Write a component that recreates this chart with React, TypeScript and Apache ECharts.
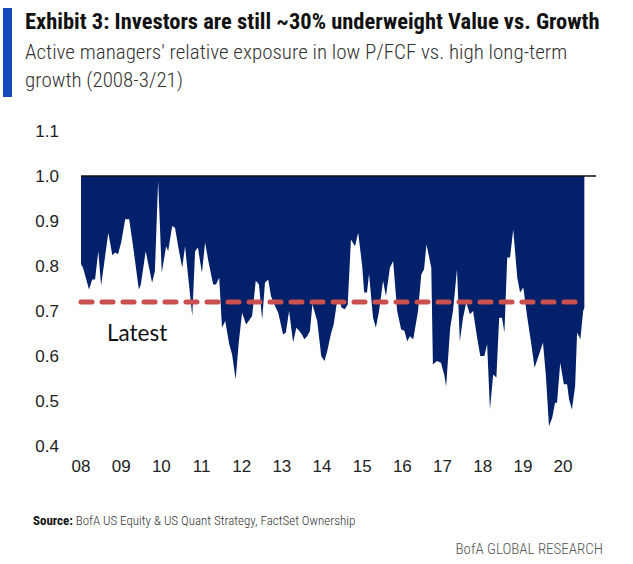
import React, { useEffect, useRef } from "react";
import * as echarts from "echarts";

const years: number[] = [
  2008.0, 2008.05, 2008.2, 2008.28, 2008.35, 2008.43, 2008.5, 2008.68, 2008.78, 2008.85, 2008.92,
  2009.0, 2009.1, 2009.2, 2009.29, 2009.44, 2009.49, 2009.61, 2009.77, 2009.84, 2009.92,
  2010.01, 2010.12, 2010.17, 2010.27, 2010.34, 2010.44, 2010.52, 2010.59, 2010.67, 2010.77, 2010.84, 2010.91,
  2011.01, 2011.09, 2011.17, 2011.29, 2011.36, 2011.44, 2011.51, 2011.59, 2011.69, 2011.76, 2011.85, 2011.93,
  2012.01, 2012.11, 2012.2, 2012.26, 2012.35, 2012.43, 2012.51, 2012.58, 2012.66, 2012.73, 2012.83, 2012.91,
  2013.03, 2013.1, 2013.18, 2013.28, 2013.36, 2013.43, 2013.5, 2013.56, 2013.63, 2013.7, 2013.76, 2013.88, 2013.98,
  2014.06, 2014.13, 2014.23, 2014.29, 2014.37, 2014.42, 2014.49, 2014.57, 2014.64, 2014.72, 2014.82, 2014.9,
  2015.0, 2015.05, 2015.12, 2015.17, 2015.27, 2015.34, 2015.42, 2015.52, 2015.59, 2015.69, 2015.77, 2015.87, 2015.97,
  2016.05, 2016.12, 2016.19, 2016.27, 2016.39, 2016.47, 2016.54, 2016.6, 2016.72, 2016.76, 2016.86, 2016.96,
  2017.04, 2017.09, 2017.19, 2017.26, 2017.36, 2017.43, 2017.51, 2017.59, 2017.68, 2017.76, 2017.86, 2017.94,
  2018.04, 2018.11, 2018.18, 2018.26, 2018.34, 2018.41, 2018.48, 2018.54, 2018.61, 2018.68, 2018.76, 2018.86, 2018.93,
  2019.01, 2019.11, 2019.21, 2019.29, 2019.39, 2019.5, 2019.57, 2019.65, 2019.73, 2019.8, 2019.85, 2019.93,
  2020.02, 2020.1, 2020.15, 2020.22, 2020.3, 2020.35, 2020.43, 2020.5, 2020.53,
];

const exposure: number[] = [
  0.804, 0.796, 0.748, 0.77, 0.77, 0.833, 0.756, 0.874, 0.824, 0.83, 0.826,
  0.852, 0.904, 0.904, 0.848, 0.748, 0.759, 0.833, 0.763, 0.789, 0.989,
  0.785, 0.844, 0.833, 0.889, 0.885, 0.833, 0.796, 0.844, 0.774, 0.689, 0.833, 0.841,
  0.785, 0.852, 0.811, 0.759, 0.759, 0.774, 0.663, 0.678, 0.626, 0.604, 0.548, 0.633,
  0.696, 0.67, 0.681, 0.689, 0.767, 0.759, 0.681, 0.763, 0.77, 0.733, 0.711, 0.696,
  0.648, 0.652, 0.7, 0.63, 0.663, 0.656, 0.648, 0.637, 0.644, 0.656, 0.715, 0.678, 0.6,
  0.589, 0.611, 0.652, 0.67, 0.719, 0.726, 0.707, 0.704, 0.715, 0.859, 0.844, 0.874,
  0.8, 0.741, 0.741, 0.783, 0.685, 0.663, 0.7, 0.767, 0.733, 0.796, 0.811, 0.7, 0.659,
  0.656, 0.633, 0.644, 0.637, 0.7, 0.781, 0.793, 0.848, 0.796, 0.581, 0.589, 0.585,
  0.559, 0.533, 0.663, 0.7, 0.793, 0.633, 0.685, 0.719, 0.693, 0.7, 0.641, 0.6,
  0.6, 0.626, 0.481, 0.559, 0.552, 0.685, 0.685, 0.652, 0.819, 0.819, 0.881, 0.774, 0.741,
  0.752, 0.685, 0.626, 0.574, 0.6, 0.63, 0.559, 0.444, 0.463, 0.496, 0.496, 0.585,
  0.537, 0.537, 0.504, 0.481, 0.533, 0.652, 0.637, 0.7, 0.707,
];

const latestValue = 0.72;
const parityValue = 1.0;
const axisStart = 2008;
const axisEnd = 2020.82;
const lineEnd = 2020.5;
const yTicks = { min: 0.4, max: 1.1, interval: 0.1 };

const title = "Exhibit 3: Investors are still ~30% underweight Value vs. Growth";
const subtitle1 = "Active managers' relative exposure in low P/FCF vs. high long-term";
const subtitle2 = "growth (2008-3/21)";
const sourceLabel = "Source:";
const sourceText = " BofA US Equity & US Quant Strategy, FactSet Ownership";
const brand = "BofA GLOBAL RESEARCH";
const latestLabel = "Latest";

const NARROW = "'Roboto Condensed', 'Liberation Sans Narrow', 'Liberation Sans', sans-serif";
const AXISFONT = "'Liberation Sans', Arial, sans-serif";

export default function App() {
  const ref = useRef<HTMLDivElement>(null);
  useEffect(() => {
    if (!ref.current) return;
    const chart = echarts.init(ref.current, undefined, { renderer: "svg" });
    const seriesData = years.map((y, i) => [y, exposure[i]]);
    chart.setOption({
      animation: false,
      backgroundColor: "#ffffff",
      grid: { left: 81, right: 37, top: 131, bottom: 118, containLabel: false },
      xAxis: {
        type: "value",
        min: axisStart,
        max: axisEnd,
        interval: 1,
        axisLine: { show: false },
        axisTick: { show: false },
        splitLine: { show: false },
        axisLabel: {
          margin: 12,
          color: "#222",
          fontSize: 17,
          fontFamily: AXISFONT,
          showMaxLabel: false,
          formatter: (v: number) => (Math.abs(v - Math.round(v)) < 1e-6 ? String(Math.round(v) % 100).padStart(2, "0") : ""),
        },
      },
      yAxis: {
        type: "value",
        min: yTicks.min,
        max: yTicks.max,
        interval: yTicks.interval,
        axisLine: { show: false },
        axisTick: { show: false },
        splitLine: { show: false },
        axisLabel: {
          margin: 22,
          color: "#222",
          fontSize: 17,
          fontFamily: AXISFONT,
          formatter: (v: number) => v.toFixed(1),
        },
      },
      series: [
        {
          type: "line",
          data: seriesData,
          symbol: "none",
          lineStyle: { width: 0 },
          areaStyle: { color: "#03216B", opacity: 1, origin: parityValue },
          z: 2,
        },
        {
          type: "line",
          data: [
            [axisStart, parityValue],
            [axisEnd, parityValue],
          ],
          symbol: "none",
          lineStyle: { color: "#111", width: 1.5 },
          z: 3,
        },
        {
          type: "line",
          data: [
            [axisStart, latestValue],
            [lineEnd, latestValue],
          ],
          symbol: "none",
          lineStyle: { color: "#C9504F", width: 5, type: [11, 10], cap: "round" },
          z: 4,
        },
      ],
      graphic: [
        { type: "rect", shape: { x: 3, y: 8, width: 9, height: 89 }, style: { fill: "#1548B8" } },
        {
          type: "text",
          x: 25,
          y: 21,
          style: { text: title, font: `bold 22.5px ${NARROW}`, fill: "#111", textVerticalAlign: "middle" },
        },
        {
          type: "text",
          x: 25,
          y: 52,
          style: { text: subtitle1, font: `300 21px ${NARROW}`, fill: "#333", textVerticalAlign: "middle" },
        },
        {
          type: "text",
          x: 25,
          y: 80,
          style: { text: subtitle2, font: `300 21px ${NARROW}`, fill: "#333", textVerticalAlign: "middle" },
        },
        {
          type: "text",
          x: 107,
          y: 332,
          style: { text: latestLabel, font: `22.5px Lato, 'Open Sans', sans-serif`, fill: "#111", textVerticalAlign: "middle" },
        },
        {
          type: "text",
          x: 33,
          y: 520,
          style: {
            text: `{b|${sourceLabel}}{r|${sourceText}}`,
            textVerticalAlign: "middle",
            rich: {
              b: { font: `bold 13px ${NARROW}`, fill: "#111" },
              r: { font: `300 13px ${NARROW}`, fill: "#333" },
            },
          },
        },
        {
          type: "text",
          x: 603,
          y: 549,
          style: { text: brand, font: `300 15px ${NARROW}`, fill: "#555", textAlign: "right", textVerticalAlign: "middle" },
        },
      ],
    });
    return () => chart.dispose();
  }, []);
  return <div ref={ref} style={{ position: "fixed", left: 0, top: 0, width: 633, height: 564 }} />;
}
